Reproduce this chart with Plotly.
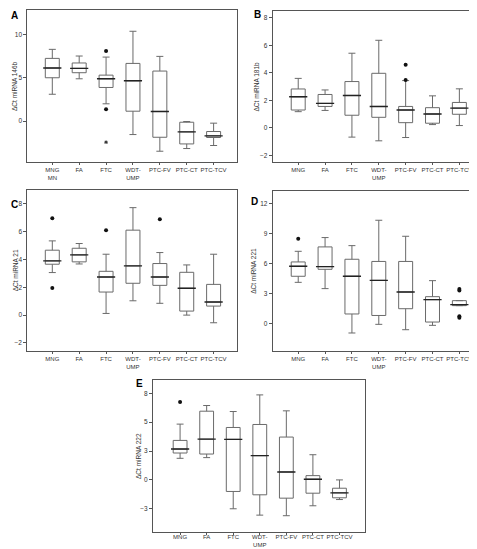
import plotly.graph_objects as go

CATS = ["MNG", "FA", "FTC", "WDT-<br>UMP", "PTC-FV", "PTC-CT", "PTC-TCV"]
CATS_A = ["MNG<br>MN", "FA", "FTC", "WDT-<br>UMP", "PTC-FV", "PTC-CT", "PTC-TCV"]

# Panel A: ΔCt miRNA 146b
A_low = [3.1, 4.88, 2.0, -1.54, -3.46, -3.15, -2.8]
A_q1 = [5.0, 5.58, 3.88, 1.15, -1.85, -2.62, -1.88]
A_med = [6.12, 6.08, 4.88, 4.65, 1.12, -1.23, -1.69]
A_q3 = [7.23, 6.7, 5.3, 6.65, 5.77, -0.12, -1.19]
A_high = [8.27, 7.5, 7.38, 10.35, 7.46, -0.04, -0.23]
A_out_cat = ["FTC", "FTC"]
A_out_val = [8.08, 1.38]
A_ext_cat = ["FTC"]
A_ext_val = [-2.42]

# Panel B: ΔCt miRNA 181b
B_low = [1.18, 1.27, -0.67, -0.94, -0.7, 0.24, 0.17]
B_q1 = [1.3, 1.56, 0.92, 0.77, 0.38, 0.34, 0.99]
B_med = [2.26, 1.78, 2.36, 1.56, 1.3, 1.01, 1.44]
B_q3 = [2.83, 2.43, 3.37, 3.97, 1.56, 1.47, 1.85]
B_high = [3.6, 2.76, 5.43, 6.37, 3.44, 2.33, 2.84]
B_out_cat = ["PTC-FV", "PTC-FV"]
B_out_val = [4.59, 3.48]

# Panel C: ΔCt miRNA 21
C_low = [3.06, 3.68, 0.12, 1.03, 0.85, 0.0, -0.55]
C_q1 = [3.66, 3.83, 1.66, 2.29, 2.14, 0.29, 0.65]
C_med = [3.9, 4.33, 2.74, 3.54, 2.74, 1.93, 0.94]
C_q3 = [4.67, 4.81, 3.15, 6.11, 3.71, 3.08, 2.21]
C_high = [5.34, 5.15, 4.38, 7.73, 4.5, 3.61, 4.38]
C_out_cat = ["MNG", "MNG", "FTC", "PTC-FV"]
C_out_val = [6.96, 1.95, 6.11, 6.9]

# Panel D: ΔCt miRNA 221
D_low = [4.12, 3.49, -0.97, -0.1, -0.64, -0.2, 1.78]
D_q1 = [4.73, 5.43, 0.94, 0.79, 1.47, 0.13, 1.78]
D_med = [5.73, 5.7, 4.73, 4.32, 3.15, 2.38, 1.88]
D_q3 = [6.17, 7.68, 6.44, 6.22, 6.22, 2.68, 2.28]
D_high = [7.24, 8.62, 7.81, 10.36, 8.75, 4.29, 2.28]
D_out_cat = ["MNG", "PTC-TCV", "PTC-TCV", "PTC-TCV", "PTC-TCV"]
D_out_val = [8.51, 3.45, 3.3, 0.72, 0.57]

# Panel E: ΔCt miRNA 222
E_low = [1.87, 1.93, -2.5, -3.05, -3.1, -2.24, -1.7]
E_q1 = [2.33, 2.24, -1.0, -1.29, -1.58, -1.15, -1.55]
E_med = [2.67, 3.53, 3.51, 2.1, 0.69, 0.06, -1.12]
E_q3 = [3.42, 5.95, 4.54, 4.8, 3.71, 0.37, -0.72]
E_high = [4.83, 6.44, 5.92, 7.36, 5.98, 2.18, 0.0]
E_out_cat = ["MNG"]
E_out_val = [6.75]

A_ticks = [0, 5, 10]
B_ticks = [-2, 0, 2, 4, 6, 8]
C_ticks = [-2, 0, 2, 4, 6, 8]
D_ticks = [0, 3, 6, 9, 12]
E_ticks = [-2.5, 0, 2.5, 5, 7.5]
E_tick_text = ["\u22123", "0", "3", "5", "8"]

W, H = 477, 549
FONT = "Liberation Sans, Arial, sans-serif"
LINE = "#6a6a6a"
AXC = "#555555"

fig = go.Figure()
layout = dict(width=W, height=H, margin=dict(l=0, r=0, t=0, b=0),
              paper_bgcolor="white", plot_bgcolor="white", showlegend=False,
              font=dict(family=FONT, size=6, color="#333"))
annotations = []


def px_dom_x(a, b):
    return [a / W, b / W]


def px_dom_y(top, bot):
    return [1 - bot / H, 1 - top / H]


def panel(i, cats, low, q1, med, q3, high, out_cat, out_val, xdom, ydom, yrange,
          ticks, ticktext, xrange, letter, letter_xy, title, title_x,
          ext_cat=None, ext_val=None, standoff=0):
    sfx = "" if i == 1 else str(i)
    xa, ya = "x" + sfx, "y" + sfx
    base = CATS
    fig.add_trace(go.Box(x=cats, q1=q1, median=med, q3=q3, lowerfence=low,
                         upperfence=high, fillcolor="white",
                         line=dict(color=LINE, width=1), whiskerwidth=0.5,
                         width=0.52, boxpoints=False, xaxis=xa, yaxis=ya,
                         hoverinfo="skip"))
    fig.add_trace(go.Scatter(x=cats, y=med, mode="markers", xaxis=xa, yaxis=ya,
                             marker=dict(symbol="line-ew", size=13, color="#222",
                                         line=dict(width=1.4, color="#222")),
                             hoverinfo="skip"))
    oc = [cats[base.index(c)] for c in out_cat]
    fig.add_trace(go.Scatter(x=oc, y=out_val, mode="markers", xaxis=xa, yaxis=ya,
                             marker=dict(symbol="circle", size=4, color="#111"),
                             hoverinfo="skip"))
    if ext_cat:
        ec = [cats[base.index(c)] for c in ext_cat]
        fig.add_trace(go.Scatter(x=ec, y=ext_val, mode="markers", xaxis=xa, yaxis=ya,
                                 marker=dict(symbol="asterisk-open", size=3,
                                             color="#333",
                                             line=dict(width=1, color="#333")),
                                 hoverinfo="skip"))
    xkey = "xaxis" + sfx
    ykey = "yaxis" + sfx
    layout[xkey] = dict(domain=xdom, anchor=ya, type="category",
                        categoryorder="array", categoryarray=cats,
                        range=xrange, showline=True, mirror=True,
                        linecolor=AXC, linewidth=1, ticks="outside", ticklen=2,
                        tickcolor=AXC, showgrid=False, zeroline=False,
                        tickangle=0, ticklabelstandoff=standoff,
                        tickfont=dict(size=6, color="#333", family=FONT))
    layout[ykey] = dict(domain=ydom, anchor=xa, range=yrange, showline=True,
                        mirror=True, linecolor=AXC, linewidth=1, ticks="outside",
                        ticklen=3, tickcolor=AXC, showgrid=False, zeroline=False,
                        tickvals=ticks, ticktext=ticktext,
                        tickfont=dict(size=6.5, color="#333", family=FONT))
    annotations.append(dict(text="<b>" + letter + "</b>", x=letter_xy[0] / W,
                            y=1 - letter_xy[1] / H, xref="paper", yref="paper",
                            showarrow=False, xanchor="left", yanchor="middle",
                            font=dict(size=10, color="#000", family=FONT)))
    ymid = (ydom[0] + ydom[1]) / 2
    annotations.append(dict(text=title, x=title_x / W, y=ymid, xref="paper",
                            yref="paper", showarrow=False, textangle=-90,
                            xanchor="center", yanchor="middle",
                            font=dict(size=6.5, color="#333", family=FONT)))


panel(1, CATS_A, A_low, A_q1, A_med, A_q3, A_high, A_out_cat, A_out_val,
      px_dom_x(19.3, 229), px_dom_y(2, 154), [-4.7, 12.8], A_ticks, None,
      [-0.93, 6.87], "A", (1, 7), "\u0394Ct miRNA 146b", 7,
      ext_cat=A_ext_cat, ext_val=A_ext_val)
panel(2, CATS, B_low, B_q1, B_med, B_q3, B_high, B_out_cat, B_out_val,
      px_dom_x(264.7, 475), px_dom_y(3, 154), [-2.48, 8.5], B_ticks, None,
      [-0.95, 6.88], "B", (244, 6), "\u0394Ct miRNA 181b", 248)
panel(3, CATS, C_low, C_q1, C_med, C_q3, C_high, C_out_cat, C_out_val,
      px_dom_x(19.3, 229), px_dom_y(182, 342.7), [-2.56, 9.0], C_ticks, None,
      [-0.93, 6.87], "C", (1, 196), "\u0394Ct miRNA 21", 7)
panel(4, CATS, D_low, D_q1, D_med, D_q3, D_high, D_out_cat, D_out_val,
      px_dom_x(264.7, 475), px_dom_y(183, 342.7), [-2.75, 13.3], D_ticks, None,
      [-0.95, 6.88], "D", (241, 193), "\u0394Ct miRNA 221", 246)
panel(5, CATS, E_low, E_q1, E_med, E_q3, E_high, E_out_cat, E_out_val,
      px_dom_x(145, 356.7), px_dom_y(372, 524), [-4.51, 8.65], E_ticks,
      E_tick_text, [-1.02, 6.95], "E", (126, 375), "\u0394Ct miRNA 222", 131,
      standoff=-3)

layout["annotations"] = annotations
fig.update_layout(**layout)
fig.write_html("out.html")
